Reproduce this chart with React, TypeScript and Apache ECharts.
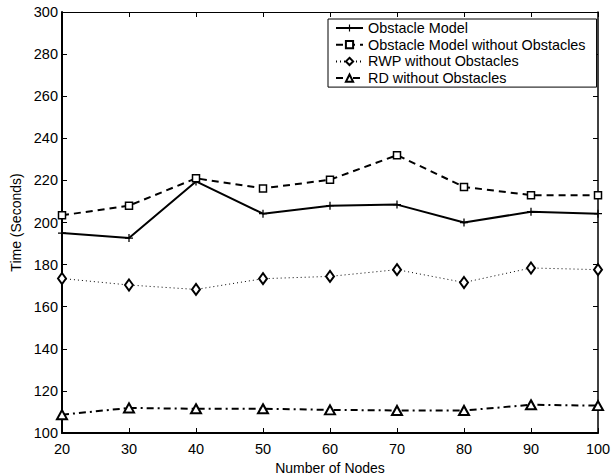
import React, { useEffect, useRef } from "react";
import * as echarts from "echarts";

const nodes = [20, 30, 40, 50, 60, 70, 80, 90, 100];
const obstacleModel = [195, 192.6, 219.5, 204.2, 208, 208.5, 200, 205.1, 204.2];
const obstacleModelNoObs = [203.4, 208, 221, 216.2, 220.3, 232, 216.9, 213, 213];
const rwpNoObs = [173.4, 170.3, 168.2, 173.3, 174.4, 177.6, 171.5, 178.4, 177.6];
const rdNoObs = [108.7, 111.9, 111.5, 111.5, 111, 110.7, 110.7, 113.4, 113];

const names = [
  "Obstacle Model",
  "Obstacle Model without Obstacles",
  "RWP without Obstacles",
  "RD without Obstacles",
];

const FONT = "Liberation Sans, Arial, sans-serif";
const plusPath = "path://M4.2,0h1.6v4.2h4.2v1.6h-4.2v4.2h-1.6v-4.2h-4.2v-1.6h4.2z";

export default function App() {
  const ref = useRef<HTMLDivElement>(null);
  useEffect(() => {
    if (!ref.current) return;
    const chart = echarts.init(ref.current, undefined, { renderer: "svg" });
    const pair = (arr: number[]) => nodes.map((n, i) => [n, arr[i]]);
    chart.setOption({
      animation: false,
      backgroundColor: "#fff",
      textStyle: { fontFamily: FONT, color: "#000" },
      grid: { left: 62, right: 15, top: 12, bottom: 43, containLabel: false, outerBoundsMode: "none" },
      legend: {
        orient: "vertical",
        left: 328,
        top: 19,
        padding: [2, 11, 2, 7],
        itemGap: 2.7,
        itemWidth: 27,
        itemHeight: 9,
        borderColor: "#000",
        borderWidth: 1,
        backgroundColor: "#fff",
        textStyle: { fontFamily: FONT, fontSize: 14.4, color: "#000", lineHeight: 14 },
        data: names,
      },
      xAxis: [
        {
          type: "value",
          min: 20,
          max: 100,
          interval: 10,
          name: "Number of Nodes",
          nameLocation: "middle",
          nameGap: 28,
          nameTextStyle: { fontFamily: FONT, fontSize: 14, color: "#000" },
          axisLine: { show: true, onZero: false, lineStyle: { color: "#000", width: 2 } },
          axisTick: { show: true, inside: true, length: 5, lineStyle: { color: "#000", width: 1 } },
          axisLabel: { fontFamily: FONT, fontSize: 14.5, color: "#000", margin: 8 },
          splitLine: { show: false },
        },
        {
          type: "value",
          position: "top",
          min: 20,
          max: 100,
          interval: 10,
          axisLine: { show: true, onZero: false, lineStyle: { color: "#000", width: 1.2 } },
          axisTick: { show: true, inside: true, length: 5, lineStyle: { color: "#000", width: 1 } },
          axisLabel: { show: false },
          splitLine: { show: false },
        },
      ],
      yAxis: [
        {
          type: "value",
          min: 100,
          max: 300,
          interval: 20,
          name: "Time (Seconds)",
          nameLocation: "middle",
          nameGap: 37,
          nameTextStyle: { fontFamily: FONT, fontSize: 14, color: "#000" },
          axisLine: { show: true, onZero: false, lineStyle: { color: "#000", width: 2 } },
          axisTick: { show: true, inside: true, length: 5, lineStyle: { color: "#000", width: 1 } },
          axisLabel: { fontFamily: FONT, fontSize: 14.5, color: "#000", margin: 4 },
          splitLine: { show: false },
        },
        {
          type: "value",
          position: "right",
          min: 100,
          max: 300,
          interval: 20,
          axisLine: { show: true, onZero: false, lineStyle: { color: "#000", width: 1.5 } },
          axisTick: { show: true, inside: true, length: 5, lineStyle: { color: "#000", width: 1 } },
          axisLabel: { show: false },
          splitLine: { show: false },
        },
      ],
      series: [
        {
          name: names[0],
          type: "line",
          data: pair(obstacleModel),
          symbol: plusPath,
          symbolSize: 8,
          itemStyle: { color: "#000", borderWidth: 0 },
          lineStyle: { color: "#000", width: 2, type: "solid" },
        },
        {
          name: names[1],
          type: "line",
          data: pair(obstacleModelNoObs),
          symbol: "rect",
          symbolSize: 7,
          itemStyle: { color: "#fff", borderColor: "#000", borderWidth: 1.5 },
          lineStyle: { color: "#000", width: 2, type: [7, 5] },
        },
        {
          name: names[2],
          type: "line",
          data: pair(rwpNoObs),
          symbol: "diamond",
          symbolSize: [8, 11],
          itemStyle: { color: "#fff", borderColor: "#000", borderWidth: 2 },
          lineStyle: { color: "#000", width: 1, type: [1, 3] },
        },
        {
          name: names[3],
          type: "line",
          data: pair(rdNoObs),
          symbol: "triangle",
          symbolSize: [10, 9],
          itemStyle: { color: "#fff", borderColor: "#000", borderWidth: 2 },
          lineStyle: { color: "#000", width: 2, type: [7, 4, 2, 4] },
        },
      ],
    });
    return () => chart.dispose();
  }, []);
  return <div ref={ref} style={{ width: 613, height: 476, position: "absolute", left: 0, top: 0 }} />;
}
